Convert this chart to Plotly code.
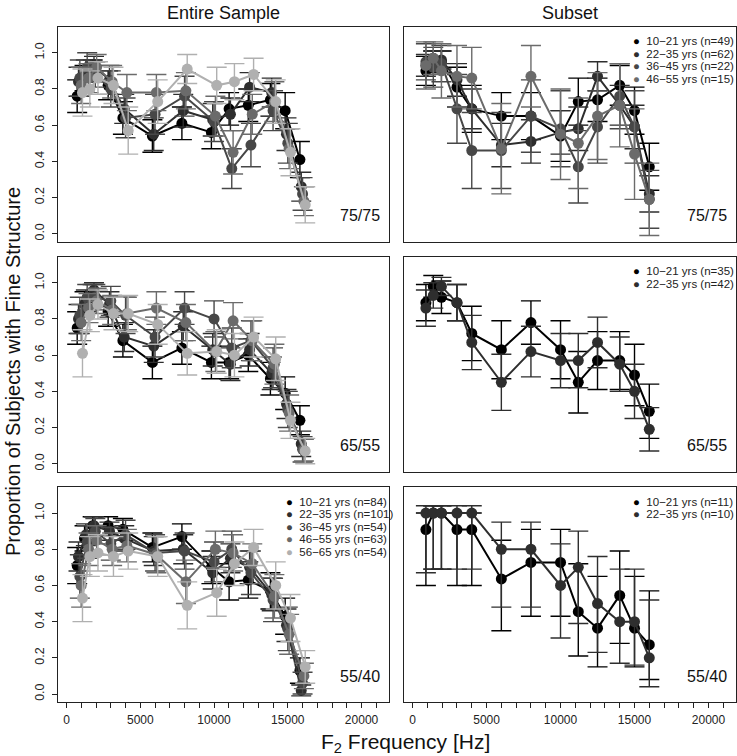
import plotly.graph_objects as go

# ---------------- data ----------------
FREQ = [900, 1400, 1950, 3000, 4000, 6000, 8000, 10000, 11200, 12500, 14000, 15000, 16000]

GROUPS = ["10−21 yrs", "22−35 yrs", "36−45 yrs", "46−55 yrs", "56−65 yrs"]
COLORS = ["#000000", "#2e2e2e", "#474747", "#6b6b6b", "#b0b0b0"]

X_TICKS = list(range(0, 21001, 1000))
X_TICK_LABELS = [str(v) if v % 5000 == 0 else " " for v in X_TICKS]
Y_TICKS = [0.0, 0.2, 0.4, 0.6, 0.8, 1.0]
Y_TICK_LABELS = ["0.0", "0.2", "0.4", "0.6", "0.8", "1.0"]

PANEL_LABELS = ["75/75", "75/75", "65/55", "65/55", "55/40", "55/40"]
COL_TITLES = ["Entire Sample", "Subset"]

# Row 1 (75/75) - entire sample
E75_1021 = [0.76, 0.86, 0.90, 0.82, 0.64, 0.54, 0.61, 0.56, 0.69, 0.71, 0.74, 0.68, 0.41]
E75_2235 = [0.84, 0.90, 0.93, 0.85, 0.69, 0.55, 0.68, 0.63, 0.66, 0.81, 0.78, 0.55, 0.26]
E75_3645 = [0.86, 0.92, 0.88, 0.80, 0.64, 0.66, 0.76, 0.62, 0.36, 0.49, 0.68, 0.50, 0.22]
E75_4655 = [0.82, 0.86, 0.92, 0.84, 0.78, 0.78, 0.79, 0.65, 0.45, 0.66, 0.73, 0.47, 0.18]
E75_5665 = [0.78, 0.80, 0.86, 0.82, 0.57, 0.73, 0.91, 0.82, 0.84, 0.88, 0.73, 0.45, 0.16]
E75_1021_ERR = [0.09, 0.07, 0.06, 0.08, 0.09, 0.09, 0.09, 0.09, 0.09, 0.09, 0.09, 0.10, 0.10]
E75_2235_ERR = [0.08, 0.06, 0.05, 0.08, 0.08, 0.09, 0.09, 0.09, 0.09, 0.08, 0.08, 0.09, 0.08]
E75_3645_ERR = [0.10, 0.08, 0.07, 0.10, 0.11, 0.11, 0.11, 0.11, 0.11, 0.12, 0.11, 0.11, 0.09]
E75_4655_ERR = [0.10, 0.08, 0.07, 0.09, 0.10, 0.10, 0.10, 0.11, 0.12, 0.11, 0.11, 0.11, 0.08]
E75_5665_ERR = [0.13, 0.10, 0.09, 0.10, 0.13, 0.12, 0.08, 0.10, 0.10, 0.09, 0.12, 0.13, 0.10]

# Row 1 (75/75) - subset
S75_1021 = [0.90, 0.95, 0.95, 0.81, 0.69, 0.65, 0.65, 0.54, 0.73, 0.74, 0.82, 0.68, 0.37]
S75_2235 = [0.93, 0.97, 0.96, 0.85, 0.69, 0.49, 0.51, 0.56, 0.58, 0.87, 0.71, 0.59, 0.22]
S75_3645 = [0.95, 0.92, 0.94, 0.69, 0.46, 0.46, 0.65, 0.58, 0.37, 0.59, 0.76, 0.59, 0.19]
S75_4655 = [0.93, 0.97, 0.90, 0.87, 0.86, 0.47, 0.87, 0.55, 0.50, 0.65, 0.71, 0.44, 0.19]
S75_1021_ERR = [0.08, 0.06, 0.06, 0.11, 0.13, 0.13, 0.13, 0.14, 0.13, 0.12, 0.11, 0.13, 0.13]
S75_2235_ERR = [0.06, 0.04, 0.05, 0.09, 0.11, 0.12, 0.12, 0.12, 0.12, 0.08, 0.11, 0.12, 0.10]
S75_3645_ERR = [0.10, 0.11, 0.10, 0.19, 0.21, 0.21, 0.20, 0.21, 0.20, 0.20, 0.18, 0.20, 0.16]
S75_4655_ERR = [0.13, 0.09, 0.15, 0.17, 0.17, 0.25, 0.17, 0.25, 0.25, 0.24, 0.23, 0.25, 0.20]
S75_N = [49, 62, 22, 15]

# Row 2 (65/55) - entire sample
E65_1021 = [0.75, 0.88, 0.94, 0.84, 0.68, 0.56, 0.64, 0.56, 0.56, 0.60, 0.47, 0.39, 0.24]
E65_2235 = [0.80, 0.90, 0.96, 0.88, 0.70, 0.65, 0.76, 0.63, 0.55, 0.63, 0.50, 0.33, 0.11]
E65_3645 = [0.82, 0.92, 0.92, 0.90, 0.82, 0.70, 0.86, 0.80, 0.64, 0.68, 0.53, 0.30, 0.08]
E65_4655 = [0.78, 0.86, 0.90, 0.85, 0.83, 0.86, 0.78, 0.62, 0.79, 0.68, 0.55, 0.28, 0.075]
E65_5665 = [0.61, 0.82, 0.88, 0.83, 0.83, 0.77, 0.61, 0.62, 0.60, 0.70, 0.58, 0.24, 0.07]
E65_1021_ERR = [0.09, 0.07, 0.05, 0.08, 0.09, 0.09, 0.09, 0.09, 0.09, 0.09, 0.09, 0.09, 0.08]
E65_2235_ERR = [0.08, 0.06, 0.04, 0.07, 0.08, 0.09, 0.08, 0.09, 0.09, 0.09, 0.09, 0.08, 0.07]
E65_3645_ERR = [0.10, 0.07, 0.07, 0.08, 0.10, 0.11, 0.09, 0.10, 0.11, 0.11, 0.11, 0.10, 0.07]
E65_4655_ERR = [0.10, 0.08, 0.07, 0.08, 0.09, 0.09, 0.10, 0.11, 0.10, 0.11, 0.11, 0.10, 0.06]
E65_5665_ERR = [0.13, 0.09, 0.08, 0.09, 0.10, 0.11, 0.12, 0.12, 0.12, 0.11, 0.12, 0.10, 0.07]

# Row 2 (65/55) - subset
S65_1021 = [0.89, 0.98, 0.92, 0.89, 0.72, 0.63, 0.78, 0.63, 0.45, 0.57, 0.57, 0.49, 0.29]
S65_2235 = [0.86, 0.93, 0.98, 0.89, 0.67, 0.45, 0.62, 0.57, 0.57, 0.67, 0.55, 0.40, 0.19]
S65_1021_ERR = [0.10, 0.06, 0.09, 0.10, 0.15, 0.16, 0.12, 0.16, 0.17, 0.16, 0.16, 0.17, 0.15]
S65_2235_ERR = [0.10, 0.07, 0.05, 0.10, 0.15, 0.155, 0.14, 0.15, 0.15, 0.14, 0.15, 0.15, 0.12]
S65_N = [35, 42]

# Row 3 (55/40) - entire sample
E55_1021 = [0.71, 0.86, 0.93, 0.93, 0.91, 0.81, 0.87, 0.70, 0.62, 0.63, 0.57, 0.43, 0.13]
E55_2235 = [0.76, 0.88, 0.93, 0.90, 0.86, 0.79, 0.80, 0.67, 0.75, 0.70, 0.55, 0.38, 0.02]
E55_3645 = [0.65, 0.84, 0.90, 0.83, 0.88, 0.78, 0.79, 0.73, 0.80, 0.67, 0.52, 0.36, 0.06]
E55_4655 = [0.60, 0.80, 0.85, 0.80, 0.82, 0.77, 0.62, 0.80, 0.78, 0.72, 0.54, 0.33, 0.10]
E55_5665 = [0.53, 0.76, 0.78, 0.76, 0.79, 0.76, 0.49, 0.56, 0.72, 0.81, 0.60, 0.42, 0.15]
E55_1021_ERR = [0.10, 0.07, 0.05, 0.05, 0.06, 0.08, 0.07, 0.09, 0.10, 0.10, 0.10, 0.10, 0.07]
E55_2235_ERR = [0.08, 0.06, 0.05, 0.05, 0.07, 0.08, 0.08, 0.09, 0.08, 0.09, 0.09, 0.09, 0.03]
E55_3645_ERR = [0.12, 0.09, 0.07, 0.09, 0.08, 0.10, 0.10, 0.11, 0.10, 0.12, 0.12, 0.12, 0.06]
E55_4655_ERR = [0.12, 0.09, 0.08, 0.09, 0.09, 0.10, 0.12, 0.10, 0.10, 0.11, 0.12, 0.11, 0.07]
E55_5665_ERR = [0.13, 0.11, 0.10, 0.11, 0.10, 0.11, 0.13, 0.13, 0.12, 0.10, 0.13, 0.13, 0.09]
E55_N = [84, 101, 54, 63, 54]

# Row 3 (55/40) - subset (asymmetric intervals)
S55_1021 = [0.909, 1.0, 1.0, 0.909, 0.909, 0.636, 0.727, 0.727, 0.455, 0.364, 0.545, 0.364, 0.273]
S55_1021_LO = [0.60, 0.69, 0.69, 0.60, 0.60, 0.35, 0.43, 0.43, 0.21, 0.15, 0.28, 0.15, 0.08]
S55_1021_HI = [1.0, 1.04, 1.04, 1.0, 1.0, 0.85, 0.91, 0.91, 0.72, 0.65, 0.79, 0.65, 0.57]
S55_2235 = [1.0, 1.0, 1.0, 1.0, 1.0, 0.8, 0.8, 0.6, 0.7, 0.5, 0.4, 0.4, 0.2]
S55_2235_LO = [0.67, 0.69, 0.69, 0.69, 0.69, 0.48, 0.48, 0.31, 0.39, 0.23, 0.17, 0.16, 0.04]
S55_2235_HI = [1.04, 1.04, 1.04, 1.04, 1.04, 0.95, 0.95, 0.83, 0.90, 0.76, 0.69, 0.69, 0.52]
S55_N = [11, 10]

# ---------------- layout constants ----------------
W, H = 737, 756
COL_PX = [(58, 389), (404, 736)]
ROW_PX = [(26.7, 241.7), (256.7, 471.7), (487, 702)]
X_RANGE = [-580, 21860]
Y_RANGE = [-0.044, 1.144]
FONT = "Liberation Sans, Arial, Helvetica, sans-serif"
DODGE = 90  # Hz between series in crowded panels


def sym(vals, err):
    return dict(array=list(err), arrayminus=list(err))


def asym(vals, lo, hi):
    return dict(array=[h - v for v, h in zip(vals, hi)],
                arrayminus=[v - l for v, l in zip(vals, lo)])


panels = [
    (0, 0, [(E75_1021, sym(E75_1021, E75_1021_ERR), 0),
            (E75_2235, sym(E75_2235, E75_2235_ERR), 1),
            (E75_3645, sym(E75_3645, E75_3645_ERR), 2),
            (E75_4655, sym(E75_4655, E75_4655_ERR), 3),
            (E75_5665, sym(E75_5665, E75_5665_ERR), 4)], True, None),
    (0, 1, [(S75_1021, sym(S75_1021, S75_1021_ERR), 0),
            (S75_2235, sym(S75_2235, S75_2235_ERR), 1),
            (S75_3645, sym(S75_3645, S75_3645_ERR), 2),
            (S75_4655, sym(S75_4655, S75_4655_ERR), 3)], False, S75_N),
    (1, 0, [(E65_1021, sym(E65_1021, E65_1021_ERR), 0),
            (E65_2235, sym(E65_2235, E65_2235_ERR), 1),
            (E65_3645, sym(E65_3645, E65_3645_ERR), 2),
            (E65_4655, sym(E65_4655, E65_4655_ERR), 3),
            (E65_5665, sym(E65_5665, E65_5665_ERR), 4)], True, None),
    (1, 1, [(S65_1021, sym(S65_1021, S65_1021_ERR), 0),
            (S65_2235, sym(S65_2235, S65_2235_ERR), 1)], False, S65_N),
    (2, 0, [(E55_1021, sym(E55_1021, E55_1021_ERR), 0),
            (E55_2235, sym(E55_2235, E55_2235_ERR), 1),
            (E55_3645, sym(E55_3645, E55_3645_ERR), 2),
            (E55_4655, sym(E55_4655, E55_4655_ERR), 3),
            (E55_5665, sym(E55_5665, E55_5665_ERR), 4)], True, E55_N),
    (2, 1, [(S55_1021, asym(S55_1021, S55_1021_LO, S55_1021_HI), 0),
            (S55_2235, asym(S55_2235, S55_2235_LO, S55_2235_HI), 1)], False, S55_N),
]

fig = go.Figure()
layout = dict(
    width=W, height=H,
    margin=dict(l=0, r=0, t=0, b=0),
    paper_bgcolor="white", plot_bgcolor="white",
    showlegend=False,
    font=dict(family=FONT, color="#222", size=12),
)
annotations = []

for k, (r, c, series, dodge, ns) in enumerate(panels, start=1):
    xa = "x" if k == 1 else f"x{k}"
    ya = "y" if k == 1 else f"y{k}"
    nser = len(series)
    for i, (vals, err, ci) in enumerate(series):
        off = (i - (nser - 1) / 2) * DODGE if dodge else 0
        col = COLORS[ci]
        fig.add_trace(go.Scatter(
            x=[f + off for f in FREQ], y=vals,
            mode="lines+markers",
            line=dict(color=col, width=2),
            marker=dict(color=col, size=11),
            error_y=dict(type="data", symmetric=False, color=col,
                         thickness=1.4, width=10, **err),
            xaxis=xa, yaxis=ya, hoverinfo="skip",
        ))
    x0, x1 = COL_PX[c]
    y0, y1 = ROW_PX[r]
    bottom = (r == 2)
    left = (c == 0)
    layout["xaxis" if k == 1 else f"xaxis{k}"] = dict(
        domain=[x0 / W, x1 / W], range=X_RANGE, anchor=ya,
        showgrid=False, zeroline=False,
        showline=True, mirror=True, linecolor="#222", linewidth=1,
        ticks="outside" if bottom else "", ticklen=5, tickcolor="#222",
        tickvals=X_TICKS, ticktext=X_TICK_LABELS, tickangle=0,
        showticklabels=bottom, tickfont=dict(size=12, color="#222"),
        ticklabelstandoff=2,
    )
    layout["yaxis" if k == 1 else f"yaxis{k}"] = dict(
        domain=[1 - y1 / H, 1 - y0 / H], range=Y_RANGE, anchor=xa,
        showgrid=False, zeroline=False,
        showline=True, mirror=True, linecolor="#222", linewidth=1,
        ticks="outside" if left else "", ticklen=5, tickcolor="#222",
        tickvals=Y_TICKS, ticktext=Y_TICK_LABELS, tickangle=-90,
        showticklabels=left, tickfont=dict(size=12.5, color="#222"),
        ticklabelstandoff=3,
    )
    annotations.append(dict(
        text=PANEL_LABELS[k - 1], xref=f"{xa} domain", yref=f"{ya} domain",
        x=0.978, y=0.12, xanchor="right", yanchor="middle", showarrow=False,
        font=dict(size=16, color="#111"),
    ))
    if ns is not None:
        step = 12.5 / 215
        for i, n in enumerate(ns):
            annotations.append(dict(
                text=f'<span style="color:{COLORS[i]}">●</span>  {GROUPS[i]} (n={n})',
                xref=f"{xa} domain", yref=f"{ya} domain",
                x=0.683, y=0.932 - i * step, xanchor="left", yanchor="middle",
                showarrow=False, font=dict(size=11.5, color="#222"),
            ))

for c, title in enumerate(COL_TITLES):
    x0, x1 = COL_PX[c]
    annotations.append(dict(
        text=title, xref="paper", yref="paper",
        x=(x0 + x1) / 2 / W, y=1 - 13 / H, xanchor="center", yanchor="middle",
        showarrow=False, font=dict(size=18, color="#111"),
    ))

annotations.append(dict(
    text="Proportion of Subjects with Fine Structure", xref="paper", yref="paper",
    x=13 / W, y=1 - 372 / H, xanchor="center", yanchor="middle", textangle=-90,
    showarrow=False, font=dict(size=20, color="#111"),
))
annotations.append(dict(
    text="F<sub>2</sub> Frequency [Hz]", xref="paper", yref="paper",
    x=405 / W, y=1 - 743 / H, xanchor="center", yanchor="middle",
    showarrow=False, font=dict(size=21, color="#111"), borderpad=0,
))

layout["annotations"] = annotations
fig.update_layout(**layout)
fig.write_html(
    "out.html",
    config={"displayModeBar": False},
    post_script="document.body.style.margin='0';document.body.style.overflow='hidden';",
)
